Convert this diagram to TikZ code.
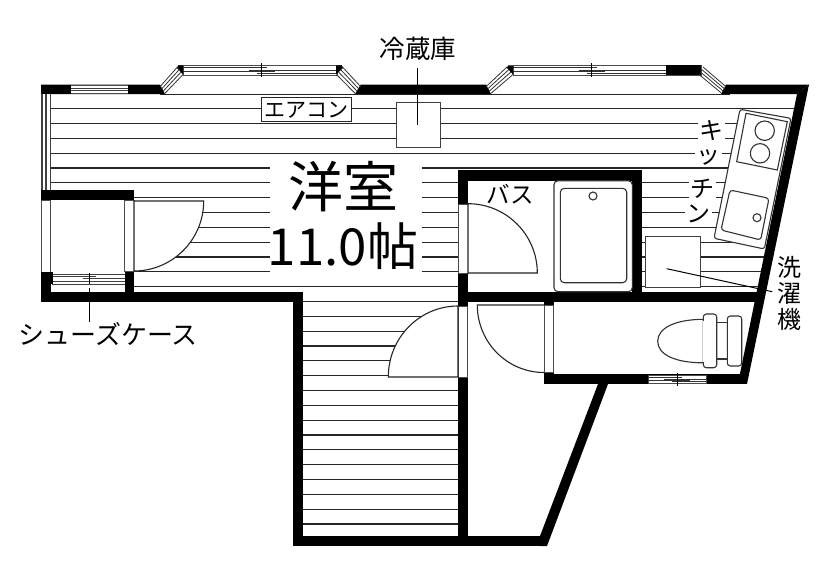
\documentclass[tikz,border=0pt]{standalone}
\usepackage{fontspec}
\setmainfont{Noto Sans CJK JP}
\usetikzlibrary{calc}
\newcommand{\fs}[1]{\fontsize{#1}{#1}\selectfont}
\tikzset{
  wall/.style={fill=black,draw=none},
  hatchline/.style={draw=black!85,line width=1.15pt},
  thinline/.style={draw=black!85,line width=1pt},
  slot/.style={fill=white,draw=black!70,line width=.8pt},
  fixture/.style={fill=white,draw=black!80,line width=1.1pt},
  swing/.style={fill=white,draw=black!85,line width=1.1pt},
  lbl/.style={inner sep=0pt,text=black},
  lblbg/.style={inner sep=1.5pt,fill=white,text=black},
}
\newcommand{\bayside}[4]{%
  \foreach \f in {0,.33,.66,1}{\draw[draw=black!80,line width=.8pt] ($(#1)!\f!(#2)$)--($(#3)!\f!(#4)$);}}
\newcommand{\sash}[6]{%
  \fill[white] (#1,#4) rectangle (#2,#5);
  \draw[slot,fill=none] (#1,#4) rectangle (#2,#5);
  \draw[draw=black!80,line width=.9pt] (#1,{#4+(#5-#4)*.25})--(#3+5,{#4+(#5-#4)*.25}) ;
  \draw[draw=black!80,line width=.9pt] (#3-5,{#4+(#5-#4)*.8})--(#2,{#4+(#5-#4)*.8});
  \draw[draw=black!80,line width=.9pt] (#3-13,{#4+(#5-#4)*.5})--(#2,{#4+(#5-#4)*.5});
  \draw[draw=black!80,line width=.9pt] (#1,{#4+(#5-#4)*.6})--(#3+13,{#4+(#5-#4)*.6});
  \draw[draw=black,line width=.9pt] (#3,#4-2)--(#3,#5+2);}
\begin{document}
\begin{tikzpicture}[x=1pt,y=-1pt]
\useasboundingbox (0,0) rectangle (840,578);
% hatching
\begin{scope}
  \clip (50.5,94)--(800,94)--(760,292)--(458,292)--(458,536)--(303,536)--(303,292)--(50.5,292)--cycle;
  \foreach \k in {0,...,28}{\draw[hatchline] (40,{108.7+14.83*\k})--(800,{108.7+14.83*\k});}
\end{scope}
% whites over hatching
\fill[white] (270,160) rectangle (422,279);
\fill[white] (50,190) rectangle (134,292);
\fill[white] (458,170) rectangle (642,302);
\fill[white] (791,118.3)--(802,118.3)--(792,249)--(764.3,249)--cycle;
% top thin line
\draw[thinline] (160,94)--(730,94);
% walls
\fill[wall] (41,84.5)--(160,84.5)--(165,94)--(41,94)--cycle;
\fill[wall] (360.7,84.5)--(486,84.5)--(491,94)--(355,94)--cycle;
\fill[wall] (726,84.5)--(809,84.5)--(797,94)--(721,94)--cycle;
\fill[wall] (809,84.5)--(747,384)--(739.5,376)--(797,94)--cycle;
\fill[wall] (41,190) rectangle (134,200);
\fill[wall] (41,190) rectangle (50.5,302);
\fill[wall] (124.5,190) rectangle (134,302);
\fill[wall] (41,292) rectangle (303,302);
\fill[wall] (292.5,292) rectangle (303,546);
\fill[wall] (292.5,536) rectangle (547,546);
\fill[wall] (547,546)--(608,384)--(598,384)--(540,536)--(540,546)--cycle;
\fill[wall] (458,170) rectangle (642,180.5);
\fill[wall] (458,170) rectangle (468,536);
\fill[wall] (632,170) rectangle (642,302);
\fill[wall] (458,292.3) rectangle (764,302);
\fill[wall] (544,292) rectangle (554,384);
\fill[wall] (544,374) rectangle (747,384);
% door slots
\draw[slot] (41.5,200) rectangle (50.5,272);
\draw[slot] (124.5,200) rectangle (134,271);
\draw[slot] (458,204) rectangle (468,273);
\draw[slot] (458,306) rectangle (467.5,377);
\draw[slot] (544.5,305) rectangle (553.5,372);
% left strip window
\fill[white] (41.5,94) rectangle (50.5,190);
\draw[draw=black!75,line width=1.2pt] (42,94)--(42,190) (46,94)--(46,190) (50.5,94)--(50.5,190);
% top-left plain window
\fill[white] (71,85) rectangle (128,93.5);
\draw[draw=black!70,line width=.8pt] (71,85.2)--(128,85.2) (71,93.3)--(128,93.3);
\draw[draw=black!75,line width=.9pt] (71,88)--(128,88) (71,90.5)--(128,90.5);
% closet window
\fill[white] (52.5,273) rectangle (124.5,284);
\fill[wall] (41,272) rectangle (52.5,284);
\draw[draw=black!75,line width=.9pt] (52.5,274)--(124.5,274) (52.5,281)--(124.5,281) (83,278)--(124.5,278) (52.5,276)--(96,276);
\draw[draw=black,line width=.9pt] (89,272.5)--(89,286);
\fill[white] (50.5,284) rectangle (124.5,292);
\draw[draw=black!75,line width=.9pt] (52,284)--(124.5,284);
% bay windows
\sash{183}{337}{261.7}{65.5}{75}{}
\sash{513}{701}{591.7}{65.5}{75}{}
\fill[wall] (666,65.5) rectangle (701,75);
\draw[draw=black!70,line width=.8pt] (183,65.5)--(178,65.5) (337,65.5)--(342,65.5);
\fill[wall] (178,65.5)--(183,65.5)--(183,74.5)--(177,68)--cycle;
\fill[wall] (342,65.5)--(336,65.5)--(336,74.5)--(343,68)--cycle;
\fill[wall] (508,65.5)--(513,65.5)--(513,74.5)--(507,68)--cycle;
\coordinate (a1) at (160,86.7); \coordinate (a2) at (165,93.3); \coordinate (a3) at (177.5,67); \coordinate (a4) at (183,74.5);
\bayside{a1}{a2}{a3}{a4}
\coordinate (b1) at (360.7,86.7); \coordinate (b2) at (355,93.3); \coordinate (b3) at (342.5,67); \coordinate (b4) at (336.5,74.5);
\bayside{b1}{b2}{b3}{b4}
\coordinate (c1) at (486,86.7); \coordinate (c2) at (491,93.3); \coordinate (c3) at (507,67); \coordinate (c4) at (513,74.5);
\bayside{c1}{c2}{c3}{c4}
\coordinate (d1) at (726,86.7); \coordinate (d2) at (721,92.7); \coordinate (d3) at (703,67); \coordinate (d4) at (699,74.5);
\bayside{d1}{d2}{d3}{d4}
% toilet window
\sash{648}{706}{677.3}{375}{383.5}{}
% door swings
\draw[swing] (134,201)--(203.7,201) arc[start angle=0,end angle=90,x radius=69.7,y radius=70]--cycle;
\draw[swing] (468,273)--(468,203.7) arc[start angle=90,end angle=0,x radius=69.3,y radius=-69.3]--cycle;
\draw[swing] (458,377)--(388.3,377) arc[start angle=180,end angle=90,x radius=69.7,y radius=-71]--cycle;
\draw[swing,fill=none] (544,305)--(477.3,305) arc[start angle=180,end angle=270,x radius=66.7,y radius=-67.5];
% fridge
\node[draw=black!75,line width=1pt,fill=white,minimum width=44pt,minimum height=44.6pt,inner sep=0pt] (fridge) at (418,125) {};
% washer
\node[draw=black!75,line width=1pt,fill=white,minimum width=55pt,minimum height=50.6pt,inner sep=0pt] (washer) at (673.2,262) {};
% kitchen
\draw[fixture,rounded corners=2.5pt] (740,109.3)--(791,118.3)--(764.3,249)--(714,238.3)--cycle;
\draw[fixture] (746,113.3)--(787.3,121.7)--(777.3,170)--(736.7,161.7)--cycle;
\draw[fixture] (764.7,130.7) circle[radius=9.7];
\draw[fixture] (760,153.3) circle[radius=9.7];
\draw[fixture,rounded corners=3pt] (730,190)--(769,198.3)--(760.7,240)--(721,230)--cycle;
\draw[fixture] (757,217.7) circle[radius=4];
% tub
\draw[fixture,rounded corners=4pt] (554,180.7) rectangle (632.3,291.7);
\draw[fixture,rounded corners=4pt] (560.3,188.3) rectangle (626.7,282.7);
\draw[fixture] (593,196) circle[radius=4];
% toilet
\draw[fixture] (703.3,319.3) .. controls (675,319.5) and (657.7,328) .. (657.7,341.3) .. controls (657.7,354.5) and (675,362.8) .. (703.3,362.8)--cycle;
\draw[fixture] (716.7,322.3) rectangle (727.3,359);
\draw[fixture,rounded corners=3pt] (703.3,314) rectangle (716.7,367.7);
\draw[draw=white,line width=1.4pt] (703.3,320.5)--(703.3,361.5);
\draw[fixture,rounded corners=3pt] (727.3,316) rectangle (741.7,366);
% labels
\node[lblbg,draw=black!85,line width=1pt,minimum width=90pt,minimum height=24pt,inner sep=0pt] (aircon) at (306.3,109.7) {\fs{21}エアコン};
\node[lbl] (room1) at (343,187) {\fs{55}洋室};
\node[lbl] (room2) at (343,246) {\fs{51}11.0帖};
\node[lbl] (fridgelbl) at (418,49) {\fs{25.5}冷蔵庫};
\node[lbl] (baslbl) at (510,194) {\fs{23.5}バス};
\node[lbl] (shoelbl) at (108,334) {\fs{26}シューズケース};
\node[lblbg] (ki1) at (711,131) {\fs{24}キ};
\node[lblbg] (ki2) at (708.5,157) {\fs{24}ッ};
\node[lblbg] (ki3) at (702,189) {\fs{24}チ};
\node[lblbg] (ki4) at (698,214) {\fs{24}ン};
\node[lbl] (wash1) at (789,267) {\fs{24}洗};
\node[lbl] (wash2) at (789,293) {\fs{24}濯};
\node[lbl] (wash3) at (789,319) {\fs{24}機};
% leaders
\coordinate (fridgetip) at (417.7,125);
\coordinate (fridgetop) at (417.7,68);
\draw[thinline,draw=black] (fridgetop)--(fridgetip);
\coordinate (washtip) at (666.7,268.7);
\coordinate (washend) at (772.3,291.7);
\draw[thinline,draw=black] (washtip)--(washend);
\coordinate (shoetop) at (89,288);
\coordinate (shoeend) at (89,322);
\draw[thinline,draw=black] (shoetop)--(shoeend);
\end{tikzpicture}
\end{document}
